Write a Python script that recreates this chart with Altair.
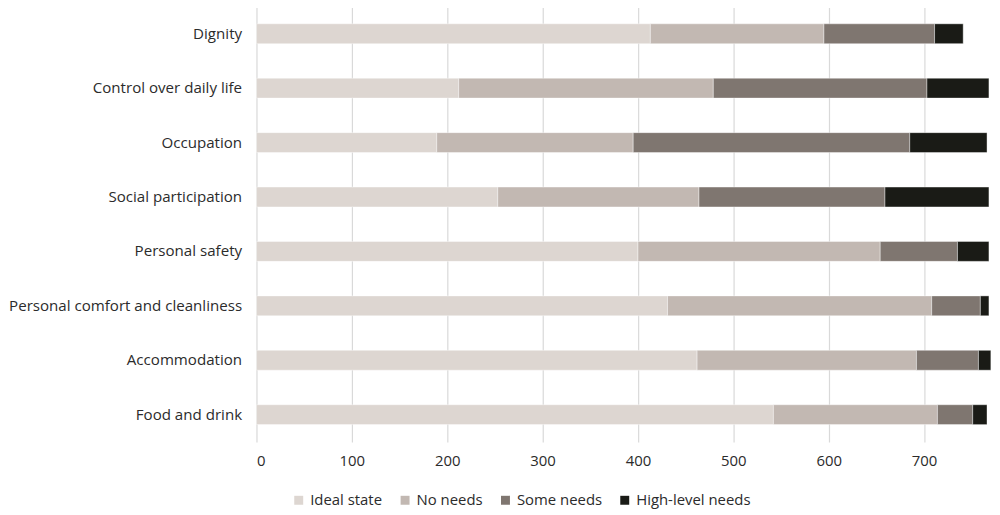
import altair as alt
import pandas as pd

categories = ["Dignity", "Control over daily life", "Occupation", "Social participation",
              "Personal safety", "Personal comfort and cleanliness", "Accommodation", "Food and drink"]
levels = ["Ideal state", "No needs", "Some needs", "High-level needs"]
ideal_state = [413, 212, 189, 253, 400, 431, 462, 542]
no_needs = [182, 267, 206, 211, 254, 277, 230, 172]
some_needs = [116, 224, 290, 195, 81, 51, 65, 37]
high_needs = [30, 65, 81, 109, 33, 9, 13, 15]
colors = ["#ddd6d1", "#c2b8b2", "#7f7670", "#1a1b16"]

rows = []
for i, c in enumerate(categories):
    for j, (lvl, series) in enumerate(zip(levels, [ideal_state, no_needs, some_needs, high_needs])):
        rows.append({"category": c, "level": lvl, "order": j, "value": series[i]})
df = pd.DataFrame(rows)

font = "Open Sans"
txt = "#2b2b2b"
chart = alt.Chart(df).mark_bar(size=20, stroke="white", strokeWidth=0.4).encode(
    y=alt.Y("category:N", sort=categories, title=None,
            axis=alt.Axis(ticks=False, domain=False, labelPadding=15, labelFontSize=15.2,
                          labelColor=txt, labelFont=font, grid=False, labelLimit=0)),
    x=alt.X("value:Q", stack="zero", title=None,
            scale=alt.Scale(domain=[0, 766], nice=False),
            axis=alt.Axis(values=[0, 100, 200, 300, 400, 500, 600, 700], ticks=False, domain=False,
                          grid=True, gridColor="#d9d9d9", gridWidth=1.2, labelPadding=12,
                          labelFontSize=15, labelColor=txt, labelFont=font)),
    color=alt.Color("level:N", sort=levels, scale=alt.Scale(domain=levels, range=colors),
                    legend=alt.Legend(title=None, orient="none", direction="horizontal",
                                      legendX=35, legendY=489, symbolType="square", symbolSize=81,
                                      symbolStrokeWidth=0, labelFontSize=15, labelFont=font,
                                      labelColor=txt, columnPadding=15, labelOffset=4)),
    order=alt.Order("order:Q"),
).properties(width=735, height=438, padding={"left": 0, "top": -3, "right": 0, "bottom": 0}
).configure_view(stroke=None)

chart.save("out.html", embed_options={"renderer": "svg", "actions": False})
